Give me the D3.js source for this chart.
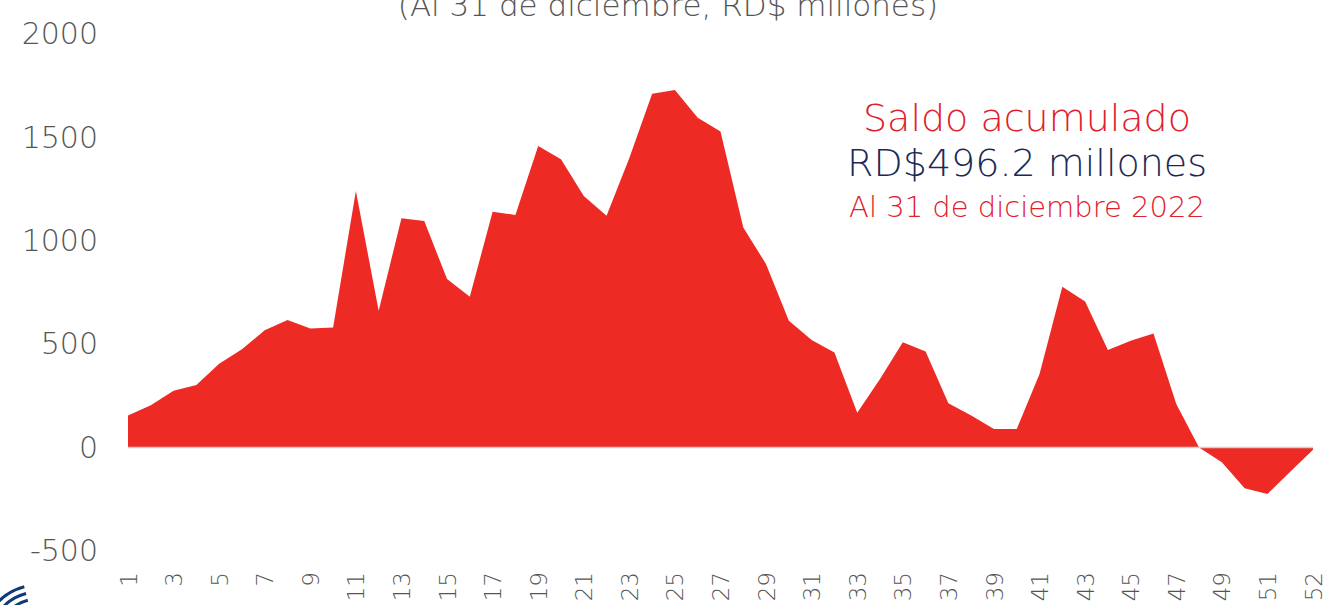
<!DOCTYPE html>
<html>
<head>
<meta charset="utf-8">
<script src="https://cdn.jsdelivr.net/npm/d3@7"></script>
<style>
  body { margin: 0; background: #fff; }
  svg { display: block; font-family: "DejaVu Sans", "Noto Sans", sans-serif; }
</style>
</head>
<body>
<div id="main"></div>
<script>
// weekly balance, RD$ millions (53 points on the category axis)
const weeks = ["1","2","3","4","5","6","7","8","9","10","11","12","13","14","15","16","17","18","19","20",
  "21","22","23","24","25","26","27","28","29","30","31","32","33","34","35","36","37","38","39","40",
  "41","42","43","44","45","46","47","48","49","50","51","52a","52"];
const saldo = [155, 205, 275, 303, 405, 475, 568, 617, 576, 581, 1241, 662, 1109, 1096, 815, 729, 1141, 1125, 1459, 1394,
  1217, 1121, 1400, 1711, 1729, 1595, 1528, 1064, 887, 613, 520, 460, 168, 332, 509, 465, 214, 155, 90, 90,
  356, 778, 707, 472, 517, 552, 211, 0, -71, -197, -224, -117, -10];
const tickWeeks = ["1","3","5","7","9","11","13","15","17","19","21","23","25","27","29","31","33","35","37","39",
  "41","43","45","47","49","51","52"];
const yTicks = [-500, 0, 500, 1000, 1500, 2000];

const title = "(Al 31 de diciembre, RD$ millones)";
const note = ["Saldo acumulado", "RD$496.2 millones", "Al 31 de diciembre 2022"];

function main() {
  const svgWidth = 1325;
  const svgHeight = 605;
  const red = "#ee2a24";
  const grey = "#555555";
  const font = "'DejaVu Sans', 'Noto Sans', sans-serif";

  var svg = d3.select("#main")
    .append("svg")
    .attr("width", svgWidth)
    .attr("height", svgHeight);

  var x = d3.scalePoint()
    .domain(weeks)
    .range([128, 1313]);

  var y = d3.scaleLinear()
    .domain([-500, 2000])
    .range([551, 34]);

  // area
  var area = d3.area()
    .x((d, i) => x(weeks[i]))
    .y0(y(0))
    .y1(d => y(d));

  svg.append("path")
    .datum(saldo)
    .attr("d", area)
    .attr("fill", red);

  // zero line
  svg.append("line")
    .attr("x1", x(weeks[0]))
    .attr("x2", x(weeks[weeks.length - 1]))
    .attr("y1", y(0))
    .attr("y2", y(0))
    .attr("stroke", "#d0d0d0")
    .attr("stroke-width", 1.5);

  // y axis (labels only)
  var yAxis = svg.append("g")
    .attr("transform", "translate(98,0)")
    .call(d3.axisLeft(y).tickValues(yTicks).tickSize(0).tickPadding(0)
      .tickFormat(d => (d < 0 ? "-" : "") + Math.abs(d)));
  yAxis.select(".domain").remove();
  yAxis.selectAll("text")
    .attr("font-size", 30)
    .attr("font-family", font)
    .attr("font-weight", 200)
    .attr("fill", grey);

  // x axis (rotated labels, last shown as 52)
  var xAxis = svg.append("g")
    .attr("transform", "translate(0,572)")
    .call(d3.axisBottom(x)
      .tickValues(tickWeeks)
      .tickSize(0)
      .tickPadding(0));
  xAxis.select(".domain").remove();
  xAxis.selectAll("text")
    .attr("transform", "rotate(-90)")
    .attr("text-anchor", "end")
    .attr("dy", "0.35em")
    .attr("x", 0)
    .attr("y", 0)
    .attr("font-size", 23)
    .attr("font-family", font)
    .attr("font-weight", 200)
    .attr("fill", grey);

  // title (cut at the top)
  svg.append("text")
    .attr("x", 668)
    .attr("y", 16)
    .attr("text-anchor", "middle")
    .attr("font-size", 31)
    .attr("font-weight", 200)
    .attr("fill", grey)
    .text(title);

  // annotation
  svg.append("text")
    .attr("x", 1027).attr("y", 131)
    .attr("text-anchor", "middle")
    .attr("font-size", 38)
    .attr("font-weight", 200)
    .attr("fill", "#e0202c")
    .text(note[0]);
  svg.append("text")
    .attr("x", 1027).attr("y", 176)
    .attr("text-anchor", "middle")
    .attr("font-size", 38)
    .attr("font-weight", 200)
    .attr("fill", "#1b2a55")
    .text(note[1]);
  svg.append("text")
    .attr("x", 1027).attr("y", 217)
    .attr("text-anchor", "middle")
    .attr("font-size", 29)
    .attr("font-weight", 200)
    .attr("fill", "#e0202c")
    .text(note[2]);

  // partial logo in the corner
  var logo = svg.append("g").attr("fill", "none").attr("stroke", "#0f3a78").attr("stroke-width", 3);
  [34, 41, 48, 55].forEach(function (r) {
    logo.append("path")
      .attr("d", d3.arc()({ innerRadius: r, outerRadius: r, startAngle: -Math.PI * 0.5, endAngle: -Math.PI * 0.08 }))
      .attr("transform", "translate(38,640)");
  });
}
main();
</script>
</body>
</html>
